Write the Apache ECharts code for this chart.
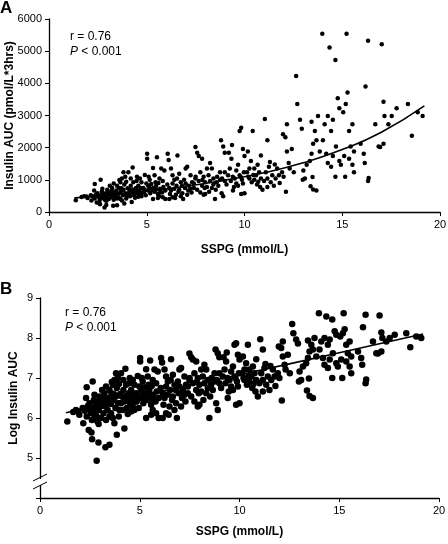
<!DOCTYPE html>
<html><head><meta charset="utf-8">
<script src="https://cdn.jsdelivr.net/npm/echarts@6/dist/echarts.min.js"></script>
<style>html,body{margin:0;padding:0;background:#fff}#c{width:448px;height:544px}</style>
</head><body><div id="c"></div>
<script>
// Readings: [SSPG (mmol/L), ln(insulin AUC)], grouped by SSPG band
const band1 = [[1.37,5.91],[1.67,6.15],[1.92,6.17],[1.97,6.08],[1.8,6.2]];
const band2 = [[2.34,6.77],[2.31,6.5],[2.14,6.25],[2.34,6.04],[2.17,5.87],[2.44,5.70],[2.58,5.64],[2.61,5.47],[2.64,6.91],[2.73,6.58],[2.78,6.37],[2.81,6.16],[2.84,6.04],[2.88,5.91],[2.94,5.85],[2.93,5.39],[2.84,4.93],[2.98,6.42],[2.68,6.25],[2.56,6.12],[2.9,6.29],[2.98,6.54],[2.48,6.37],[2.25,6.18],[2.4,6.3],[2.7,6.45],[2.95,6.2],[2.6,5.95],[2.75,6.05],[2.5,6.22]];
const band3 = [[3.28,5.27],[3.48,5.33],[3.85,5.58],[3.31,6.79],[3.23,6.62],[3.48,6.7],[3.65,6.83],[3.73,6.95],[3.81,7.12],[3.9,7.0],[3.14,6.41],[3.28,6.29],[3.39,6.2],[3.56,6.12],[3.65,6.0],[3.73,5.87],[3.48,6.04],[3.18,6.12],[3.31,5.95],[3.81,6.54],[3.9,6.37],[3.68,6.46],[3.44,6.5],[3.98,6.2],[3.06,6.0],[3.11,6.7],[3.58,6.62],[3.85,6.75],[3.95,6.04],[3.78,6.25],[3.2,6.5],[3.35,6.4],[3.55,6.35],[3.7,6.6],[3.05,6.3],[3.6,6.9],[3.95,6.85]];
const band4 = [[4.23,5.74],[4.28,7.23],[4.06,7.12],[4.18,6.95],[4.31,6.83],[4.48,6.87],[4.57,6.7],[4.65,6.95],[4.73,6.83],[4.82,6.62],[4.9,6.54],[4.98,6.79],[4.11,6.54],[4.23,6.41],[4.4,6.45],[4.52,6.37],[4.65,6.29],[4.73,6.2],[4.85,6.41],[4.15,6.2],[4.35,6.25],[4.57,6.16],[4.06,6.37],[4.45,6.62],[4.18,6.7],[4.95,6.25],[4.78,6.41],[4.3,6.55],[4.6,6.5],[4.9,7.05],[4.4,6.1],[4.7,6.6],[4.02,6.6],[4.5,7.0]];
const band5 = [[5.02,7.5],[5.02,7.41],[5.32,7.22],[5.52,7.44],[5.4,7.04],[5.15,6.91],[5.23,6.77],[5.45,6.83],[5.65,6.95],[5.82,6.87],[5.9,7.16],[5.74,7.21],[5.12,6.66],[5.28,6.58],[5.48,6.7],[5.68,6.58],[5.85,6.66],[5.07,6.5],[5.18,6.37],[5.4,6.45],[5.57,6.33],[5.79,6.41],[5.95,6.5],[5.32,6.0],[5.65,6.2],[5.82,6.12],[5.95,6.0],[5.57,6.08],[5.15,6.54],[5.35,6.62],[5.07,6.7],[5.25,6.5],[5.5,6.55],[5.6,6.8],[5.1,7.0],[5.7,6.45]];
const band6 = [[6.07,7.5],[6.12,7.39],[6.24,7.21],[6.57,7.47],[6.66,7.08],[6.41,6.91],[6.32,6.79],[6.52,6.7],[6.74,6.83],[6.91,6.91],[6.99,6.79],[6.15,6.62],[6.24,6.5],[6.41,6.58],[6.62,6.45],[6.82,6.37],[6.95,6.62],[6.19,6.33],[6.32,6.12],[6.49,6.29],[6.74,6.2],[6.15,6.0],[6.86,6.0],[6.45,6.08],[6.66,6.54],[6.32,7.04],[6.99,7.21],[6.05,6.75],[6.55,6.95],[6.8,6.7]];
const band7 = [[7.07,7.25],[7.49,7.61],[7.58,7.52],[7.66,7.46],[7.83,7.41],[7.24,7.04],[7.32,6.83],[7.49,6.95],[7.66,6.87],[7.91,7.0],[7.99,6.83],[7.16,6.7],[7.41,6.62],[7.58,6.54],[7.83,6.7],[7.96,6.62],[7.12,6.5],[7.29,6.41],[7.74,6.41],[7.91,6.29],[7.99,6.33],[7.07,6.29],[7.41,6.79],[7.24,6.58],[7.74,7.12],[7.5,7.0],[7.85,6.9]];
const band8 = [[8.24,7.33],[8.33,7.21],[8.49,6.0],[8.8,7.71],[8.91,7.62],[8.99,7.52],[8.83,6.37],[8.91,6.2],[8.16,7.04],[8.24,6.87],[8.41,6.95],[8.58,6.83],[8.66,6.7],[8.75,6.91],[8.99,7.12],[8.08,6.66],[8.33,6.62],[8.53,6.54],[8.19,6.45],[8.41,6.75],[8.75,7.12],[8.99,6.87],[8.08,7.21],[8.6,7.0],[8.85,6.95]];
const band9 = [[9.2,7.52],[9.33,7.41],[9.67,7.29],[9.75,7.83],[9.83,7.87],[9.41,6.5],[9.83,6.33],[10.0,6.37],[9.16,7.04],[9.3,6.87],[9.5,6.95],[9.58,6.79],[9.75,7.04],[9.87,6.91],[9.97,7.12],[9.08,6.75],[9.46,6.66],[9.67,6.7],[9.92,6.79],[9.25,7.21],[9.58,7.16],[10.0,7.46],[9.36,7.64],[9.92,7.58],[9.4,7.0],[9.8,7.0]];
const band10 = [[10.42,7.83],[10.17,7.54],[10.33,7.37],[10.5,7.21],[10.59,7.04],[10.75,7.12],[10.84,6.95],[11.0,6.87],[10.25,6.95],[10.37,6.83],[10.64,6.75],[10.8,6.66],[10.92,6.54],[10.67,7.29],[10.13,7.12],[10.25,7.21],[10.84,7.47],[10.5,6.91],[10.2,7.0],[10.45,7.05],[10.7,6.85]];
const band11 = [[11.04,7.97],[11.17,7.71],[11.97,7.79],[12.09,7.75],[12.17,7.91],[12.17,7.54],[12.42,7.58],[12.26,7.33],[12.52,7.12],[12.31,7.21],[12.12,6.44],[11.5,6.7],[11.34,6.83],[11.17,6.95],[11.09,7.12],[11.25,7.25],[11.42,7.04],[11.59,6.95],[11.76,7.04],[11.92,7.12],[11.67,7.21],[11.17,6.66],[11.3,7.35],[11.8,6.8],[11.55,7.3],[12.0,7.0]];
const band13 = [[12.64,8.35],[12.7,8.12],[12.84,7.96],[12.93,7.86],[13.01,7.16],[13.09,6.95],[12.98,6.91],[13.18,7.29],[13.34,7.37],[13.43,7.5],[13.51,7.66],[13.43,7.94],[13.6,7.83],[13.68,7.71],[13.38,6.69],[13.51,6.55],[13.68,6.5],[13.48,6.99],[13.76,8.0],[13.85,7.54]];
const band14 = [[13.98,8.62],[14.1,7.91],[14.26,8.0],[14.35,8.54],[14.65,8.46],[14.43,7.83],[14.52,7.96],[14.77,8.17],[14.85,8.08],[14.18,7.5],[14.26,7.33],[14.43,7.25],[14.52,7.46],[14.01,7.71],[14.65,7.0],[14.68,7.62],[14.85,7.37],[14.93,7.29]];
const band15 = [[15.1,7.46],[15.15,7.0],[15.22,8.62],[15.27,8.22],[15.18,8.12],[15.05,8.04],[15.35,7.83],[15.43,7.62],[15.52,7.91],[15.6,7.54],[15.52,7.29],[15.6,7.12],[15.35,7.41],[15.94,7.66]];
const band16 = [[16.1,7.5],[16.15,7.33],[16.19,8.27],[16.32,8.58],[16.35,6.96],[16.32,6.87],[16.69,7.91],[16.86,7.62]];
const band17 = [[17.02,8.56],[17.11,8.14],[17.16,8.0],[17.11,7.66],[16.94,7.61],[17.36,7.91],[17.53,8.0],[17.78,8.08],[18.36,8.12],[18.56,7.77],[18.86,8.04],[19.11,8.0]];

// Fitted curves
const fitLog = [[1.3,6.13],[5,6.54],[10,7.08],[15,7.63],[19.2,8.1]];
const fitAUC = [[1.3,440],[3,520],[5,650],[7,800],[9,990],[11,1220],[13,1530],[15,1940],[17,2480],[19.2,3300]];

const statR = 'r = 0.76';
const statP = '{i|P} < 0.001';

const logPts = [].concat(band1,band2,band3,band4,band5,band6,band7,band8,band9,band10,band11,band13,band14,band15,band16,band17);
const aucPts = logPts.map(p => [p[0], Math.exp(p[1])]);

const FONT = 'Liberation Sans, Arial, sans-serif';
const axisCommon = {
  axisLine:{show:true,onZero:false,lineStyle:{color:'#000',width:1.3}},
  axisTick:{show:true,inside:false,length:4,lineStyle:{color:'#000',width:1}},
  axisLabel:{color:'#000',fontFamily:FONT,fontSize:11,margin:7,formatter:v => String(v)},
  splitLine:{show:false},
  nameMoveOverlap:false,
  nameTextStyle:{color:'#000',fontFamily:FONT,fontSize:12,fontWeight:'bold'}
};

const chart = echarts.init(document.getElementById('c'), null, {renderer:'canvas'});
chart.setOption({
  animation:false,
  backgroundColor:'#fff',
  grid:[
    {left:49, top:19, width:391, height:193, containLabel:false, outerBoundsMode:'none'},
    {left:40, top:298, width:399, height:200, containLabel:false, outerBoundsMode:'none'}
  ],
  xAxis:[
    Object.assign({}, axisCommon, {gridIndex:0,type:'value',min:0,max:20,interval:5,name:'SSPG (mmol/L)',nameLocation:'middle',nameGap:32}),
    Object.assign({}, axisCommon, {gridIndex:1,type:'value',min:0,max:20,interval:5,name:'SSPG (mmol/L)',nameLocation:'middle',nameGap:28})
  ],
  yAxis:[
    Object.assign({}, axisCommon, {gridIndex:0,type:'value',min:0,max:6000,interval:1000,name:'Insulin AUC (pmol/L*3hrs)',nameLocation:'middle',nameGap:33}),
    Object.assign({}, axisCommon, {gridIndex:1,type:'value',min:4,max:9,interval:1,name:'Log Insulin AUC',nameLocation:'middle',nameGap:20,
      axisLabel:Object.assign({}, axisCommon.axisLabel, {formatter:v => v===4 ? '' : String(v)})})
  ],
  series:[
    {type:'scatter',xAxisIndex:0,yAxisIndex:0,data:aucPts,symbolSize:4.5,itemStyle:{color:'#000',opacity:1},z:2},
    {type:'line',xAxisIndex:0,yAxisIndex:0,data:fitAUC,smooth:true,showSymbol:false,lineStyle:{color:'#000',width:1.6},z:3},
    {type:'scatter',xAxisIndex:1,yAxisIndex:1,data:logPts,symbolSize:6.5,itemStyle:{color:'#000',opacity:1},z:2},
    {type:'line',xAxisIndex:1,yAxisIndex:1,data:fitLog,smooth:true,showSymbol:false,lineStyle:{color:'#000',width:1.6},z:3}
  ]
});

const yb1 = chart.convertToPixel({yAxisIndex:1}, 4.5);
const yb2 = chart.convertToPixel({yAxisIndex:1}, 4.3);
const ax = chart.convertToPixel({xAxisIndex:1}, 0);
chart.setOption({
  graphic:[
    {type:'text',left:0,top:0,style:{text:'A',font:'bold 17px '+FONT,fill:'#000'}},
    {type:'text',left:0,top:281,style:{text:'B',font:'bold 17px '+FONT,fill:'#000'}},
    {type:'text',left:70,top:31,style:{text:statR,font:'12px '+FONT,fill:'#000'}},
    {type:'text',left:70,top:46,style:{text:statP,font:'12px '+FONT,fill:'#000',rich:{i:{fontStyle:'italic',fontSize:12,fontFamily:FONT}}}},
    {type:'text',left:65,top:307,style:{text:statR,font:'12px '+FONT,fill:'#000'}},
    {type:'text',left:65,top:322,style:{text:statP,font:'12px '+FONT,fill:'#000',rich:{i:{fontStyle:'italic',fontSize:12,fontFamily:FONT}}}},
    {type:'rect',shape:{x:ax-3,y:yb1+1,width:6,height:yb2-yb1-2},style:{fill:'#fff'},z:10},
    {type:'line',shape:{x1:ax-7,y1:yb1+3,x2:ax+7,y2:yb1-4},style:{stroke:'#000',lineWidth:1},z:11},
    {type:'line',shape:{x1:ax-7,y1:yb2+3,x2:ax+7,y2:yb2-4},style:{stroke:'#000',lineWidth:1},z:11}
  ]
});
</script></body></html>
